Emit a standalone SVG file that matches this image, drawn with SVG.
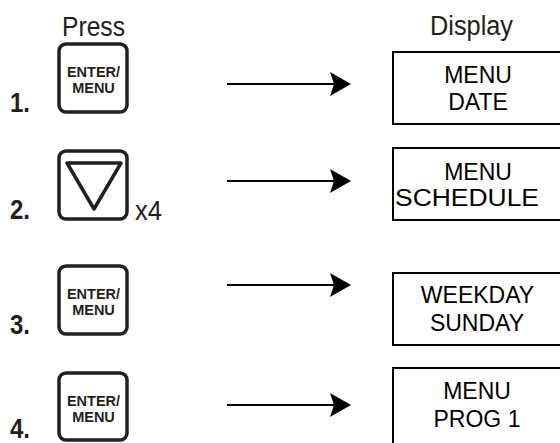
<svg xmlns="http://www.w3.org/2000/svg" width="560" height="443" viewBox="0 0 560 443">
<style>
  text { font-family: "Liberation Sans", Arial, sans-serif; fill: #231f20; }
  .hdr { font-size: 27px; }
  .num { font-size: 28px; font-weight: bold; }
  .key { font-size: 14.5px; font-weight: bold; text-anchor: middle; }
  .disp { font-size: 23px; text-anchor: middle; fill: #000; }
  .btn { fill: #fff; stroke: #231f20; stroke-width: 3.5; }
  .box { fill: #fff; stroke: #000; stroke-width: 2; }
  .conn line { stroke: #000; stroke-width: 2; }
  .conn path { fill: #000; }
</style>
<rect width="560" height="443" fill="#fff"/>
<text class="hdr" x="62" y="36" textLength="63" lengthAdjust="spacingAndGlyphs">Press</text>
<text class="hdr" x="430" y="35" textLength="83" lengthAdjust="spacingAndGlyphs">Display</text>

<g id="step1">
  <text class="num" x="10" y="112" textLength="20" lengthAdjust="spacingAndGlyphs">1.</text>
  <rect class="btn" x="59" y="44" width="68" height="68" rx="7"/>
  <text class="key" x="93.5" y="77">ENTER/</text>
  <text class="key" x="93.5" y="93">MENU</text>
</g>
<g id="step2">
  <text class="num" x="10" y="219" textLength="20" lengthAdjust="spacingAndGlyphs">2.</text>
  <rect class="btn" x="59" y="151" width="68" height="68" rx="7"/>
  <path d="M67,163 L121,163 L94,209 Z" fill="none" stroke="#231f20" stroke-width="3.5" stroke-linejoin="round"/>
  <text class="hdr" x="135" y="220" textLength="27" lengthAdjust="spacingAndGlyphs">x4</text>
</g>
<g id="step3">
  <text class="num" x="10" y="334" textLength="20" lengthAdjust="spacingAndGlyphs">3.</text>
  <rect class="btn" x="59" y="266" width="68" height="68" rx="7"/>
  <text class="key" x="93.5" y="299">ENTER/</text>
  <text class="key" x="93.5" y="315">MENU</text>
</g>
<g id="step4">
  <text class="num" x="10" y="438" textLength="20" lengthAdjust="spacingAndGlyphs">4.</text>
  <rect class="btn" x="59" y="373" width="68" height="67" rx="7"/>
  <text class="key" x="93.5" y="406">ENTER/</text>
  <text class="key" x="93.5" y="422">MENU</text>
</g>

<g id="display1">
  <rect class="box" x="393" y="52" width="180" height="72"/>
  <text class="disp" x="478" y="83">MENU</text>
  <text class="disp" x="478" y="110">DATE</text>
</g>
<g id="display2">
  <rect class="box" x="393" y="148" width="180" height="72"/>
  <text class="disp" x="478" y="180">MENU</text>
  <text class="disp" x="467" y="206" textLength="144" lengthAdjust="spacingAndGlyphs">SCHEDULE</text>
</g>
<g id="display3">
  <rect class="box" x="393" y="273" width="180" height="72"/>
  <text class="disp" x="477.5" y="303">WEEKDAY</text>
  <text class="disp" x="477" y="331">SUNDAY</text>
</g>
<g id="display4">
  <rect class="box" x="393" y="368" width="180" height="90"/>
  <text class="disp" x="477" y="399">MENU</text>
  <text class="disp" x="477" y="427">PROG 1</text>
</g>

<g id="connectors" class="conn">
  <line x1="227" y1="84" x2="334" y2="84"/>
  <path d="M330,72 L351,84 L330,96 L334,84 Z"/>
  <line x1="227" y1="181" x2="334" y2="181"/>
  <path d="M330,169 L351,181 L330,193 L334,181 Z"/>
  <line x1="227" y1="285" x2="334" y2="285"/>
  <path d="M330,273 L351,285 L330,297 L334,285 Z"/>
  <line x1="227" y1="405" x2="334" y2="405"/>
  <path d="M330,393 L351,405 L330,417 L334,405 Z"/>
</g>
</svg>
